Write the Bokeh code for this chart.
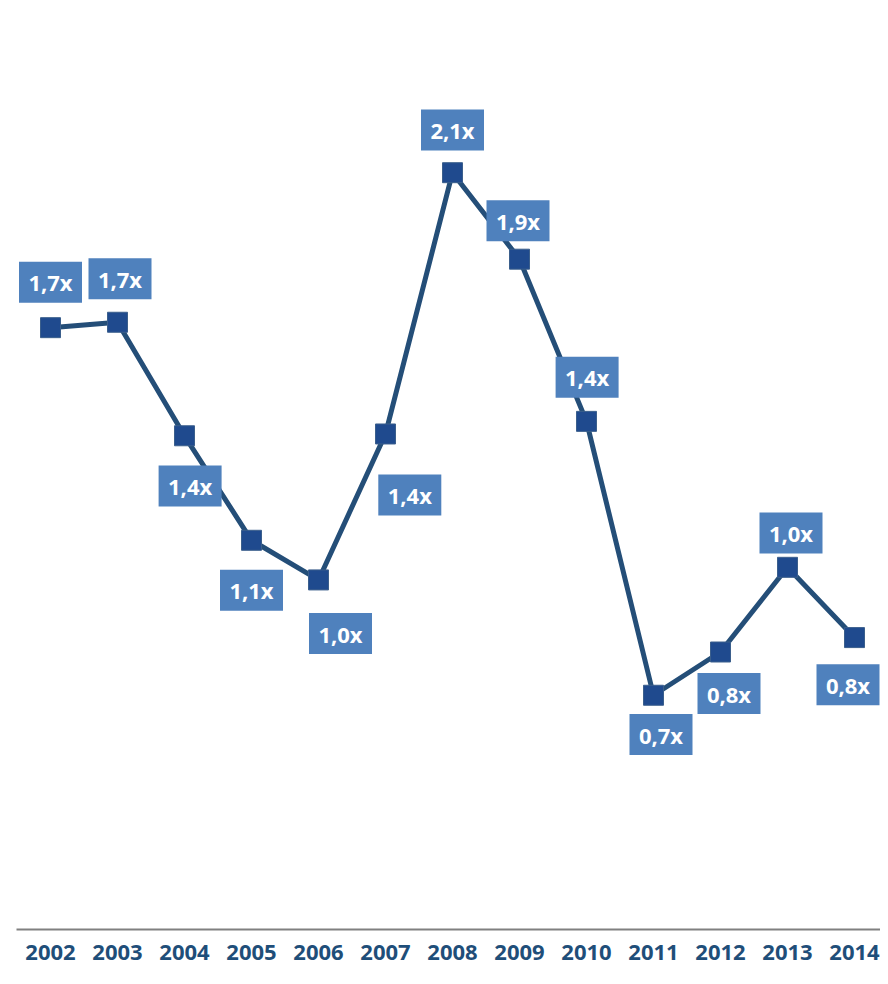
from bokeh.plotting import figure
from bokeh.models import ColumnDataSource, FixedTicker
from bokeh.embed import file_html
from bokeh.resources import INLINE
from bokeh.core.properties import value

# ---- data ----
years = ["2002", "2003", "2004", "2005", "2006", "2007", "2008",
         "2009", "2010", "2011", "2012", "2013", "2014"]
multiples = [1.67, 1.685, 1.37, 1.08, 0.97, 1.375, 2.10,
             1.86, 1.41, 0.65, 0.77, 1.005, 0.81]
labels = ["1,7x", "1,7x", "1,4x", "1,1x", "1,0x", "1,4x", "2,1x",
          "1,9x", "1,4x", "0,7x", "0,8x", "1,0x", "0,8x"]

# label box placement (screen pixels, +dy = downwards)
label_dx = [0, 2.5, 5.6, 0, 22, 24.3, 0, -1.5, 0.6, 7.5, 8.5, 3.5, -6.5]
label_dy = [-45.5, -43.5, 50.3, 50, 53.6, 61, -42.7, -38.5, -44, 39.3, 41.5, -34.3, 47.2]

# ---- layout (fits 880x976 inside the 8px page margin) ----
W, H = 880, 976
BORDER_L = 16
BORDER_B = 47
FRAME_W = W - BORDER_L
FRAME_H = H - BORDER_B
PX_PER_UNIT = (FRAME_H - 172.2) / 2.1
PX_PER_CAT = 67.0
FIRST_CAT_PX = 34                  # first category centre from frame left
X0 = -FIRST_CAT_PX / PX_PER_CAT
X1 = X0 + FRAME_W / PX_PER_CAT
Y0, Y1 = 0.0, FRAME_H / PX_PER_UNIT
sx = FRAME_W / (X1 - X0)
sy = FRAME_H / (Y1 - Y0)

xs = list(range(len(years)))

p = figure(width=W, height=H, output_backend="svg", toolbar_location=None,
           x_range=(X0, X1), y_range=(Y0, Y1), y_axis_location=None,
           min_border_left=BORDER_L, min_border_right=0, min_border_top=0,
           min_border_bottom=BORDER_B)
p.outline_line_color = None
p.grid.visible = False
p.background_fill_color = "white"
p.border_fill_color = "white"

ax = p.xaxis[0]
ax.ticker = FixedTicker(ticks=xs)
ax.major_label_overrides = {i: y for i, y in zip(xs, years)}
ax.axis_line_color = "#808080"
ax.axis_line_width = 2
ax.major_tick_line_color = None
ax.minor_tick_line_color = None
ax.major_tick_out = 0
ax.major_tick_in = 0
ax.major_label_standoff = 15
ax.major_label_text_font = "Open Sans"
ax.major_label_text_font_style = "bold"
ax.major_label_text_font_size = "22px"
ax.major_label_text_color = "#1F4E79"

src = ColumnDataSource(dict(x=xs, y=multiples))
p.line("x", "y", source=src, line_color="#244E78", line_width=5)
p.scatter("x", "y", source=src, marker="square", size=20,
          fill_color="#1F4A8E", line_color="#3B5F8C", line_width=1)

bx = [x + dx / sx for x, dx in zip(xs, label_dx)]
by = [y - dy / sy for y, dy in zip(multiples, label_dy)]
lsrc = ColumnDataSource(dict(x=bx, y=by, t=labels))
p.rect("x", "y", width=63, height=41, width_units="screen", height_units="screen",
       source=lsrc, fill_color="#4F81BD", line_color=None)
p.text("x", "y", text="t", source=lsrc, text_align="center", text_baseline="middle",
       text_color="white", text_font=value("Open Sans"), text_font_style="bold",
       text_font_size="22px")

open("out.html", "w").write(file_html(p, INLINE))
